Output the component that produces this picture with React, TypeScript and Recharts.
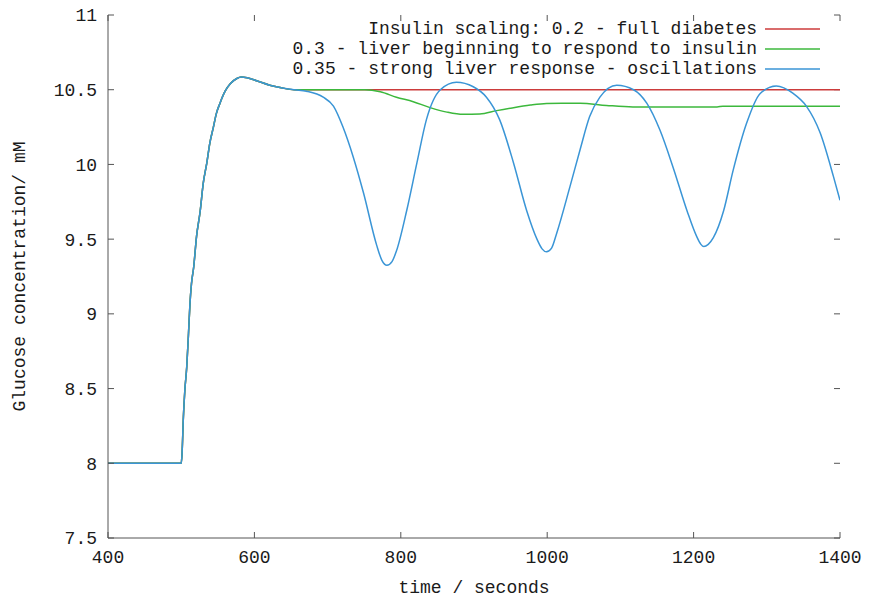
import { Legend, Line, LineChart, ReferenceLine, XAxis, YAxis } from 'recharts'

const xTicks = [400, 600, 800, 1000, 1200, 1400]
const yTicks = [7.5, 8, 8.5, 9, 9.5, 10, 10.5, 11]

const seriesNames = [
  'Insulin scaling: 0.2 - full diabetes',
  '0.3 - liver beginning to respond to insulin',
  '0.35 - strong liver response - oscillations',
]

// shared start: flat baseline, glucose step at 500 s, overshoot and settle
const riseTimes = [
  400, 500, 501, 503, 505, 507.5, 510, 512, 514, 517, 521, 526, 530, 535, 539, 544, 548, 553, 560,
  567, 576, 582, 590, 603, 621, 635, 655,
]
const riseGlucose = [
  8, 8, 8.05, 8.31, 8.49, 8.64, 8.87, 9.07, 9.2, 9.31, 9.52, 9.69, 9.87, 10.01, 10.14, 10.25, 10.34,
  10.41, 10.49, 10.54, 10.575, 10.585, 10.58, 10.56, 10.53, 10.515, 10.5,
]

// 0.2 - stays flat
const flatTimes = [700, 1000, 1400]
const flatGlucose = [10.5, 10.5, 10.5]

// 0.3 - small dip then settles
const dipTimes = [
  700, 751, 772, 794, 817, 840, 863, 885, 908, 931, 954, 977, 999, 1020, 1045, 1081, 1117, 1232,
  1240, 1400,
]
const dipGlucose = [
  10.5, 10.5, 10.486, 10.45, 10.42, 10.38, 10.35, 10.335, 10.337, 10.36, 10.38, 10.397, 10.408,
  10.41, 10.41, 10.395, 10.385, 10.385, 10.39, 10.39,
]

// 0.35 - sustained oscillation
const oscTimes = [
  671, 694, 708, 721, 735, 749, 767, 774, 781, 788, 794, 808, 822, 835, 854, 876, 899, 917, 935,
  954, 972, 986, 993, 999, 1006, 1013, 1031, 1045, 1058, 1072, 1095, 1118, 1136, 1154, 1172, 1191,
  1204, 1210, 1214, 1220, 1227, 1241, 1254, 1272, 1291, 1313, 1336, 1354, 1373, 1391, 1400,
]
const oscGlucose = [
  10.49, 10.45, 10.39, 10.25, 10.05, 9.81, 9.46, 9.36, 9.325, 9.35, 9.42, 9.69, 10.01, 10.3, 10.5,
  10.55, 10.52, 10.45, 10.3, 10.01, 9.69, 9.5, 9.435, 9.415, 9.44, 9.54, 9.85, 10.1, 10.32, 10.45,
  10.53, 10.5, 10.41, 10.23, 9.98, 9.69, 9.52, 9.465, 9.45, 9.465, 9.51, 9.69, 9.96, 10.27, 10.475,
  10.525, 10.475, 10.39, 10.21, 9.92, 9.76,
]

function toPoints(times: number[], values: number[]) {
  return times.map((time, i) => ({ time, glucose: values[i] }))
}

const fullDiabetes = toPoints([...riseTimes, ...flatTimes], [...riseGlucose, ...flatGlucose])
const liverBeginning = toPoints([...riseTimes, ...dipTimes], [...riseGlucose, ...dipGlucose])
const strongLiver = toPoints([...riseTimes, ...oscTimes], [...riseGlucose, ...oscGlucose])

const font = '"Liberation Mono", "DejaVu Sans Mono", monospace'
const textColor = '#1a1a1a'
const frame = '#555'
const tickStyle = { fill: textColor, fontSize: 18, fontFamily: font }

// mirrored tick length (6px) expressed in data units of the 732x523 plot box
const tickLenX = (6 * (1400 - 400)) / 732
const tickLenY = (6 * (11 - 7.5)) / 523

const NoLabel = () => <g />

function XLabel({ viewBox }: any) {
  return (
    <text
      x={viewBox.x + viewBox.width / 2}
      y={viewBox.y + 50}
      textAnchor="middle"
      dominantBaseline="central"
      style={tickStyle}
    >
      time / seconds
    </text>
  )
}

function YLabel({ viewBox }: any) {
  const x = viewBox.x + 20
  const y = viewBox.y + viewBox.height / 2
  return (
    <text
      x={x}
      y={y}
      transform={`rotate(-90, ${x}, ${y})`}
      textAnchor="middle"
      dominantBaseline="central"
      style={tickStyle}
    >
      Glucose concentration/ mM
    </text>
  )
}

function KeyBox({ payload }: any) {
  const items = (payload || [])
    .filter((entry: any) => seriesNames.includes(entry.value))
    .sort((a: any, b: any) => seriesNames.indexOf(a.value) - seriesNames.indexOf(b.value))
  return (
    <div style={{ fontFamily: font, fontSize: 18, color: textColor }}>
      {items.map((entry: any) => (
        <div
          key={entry.value}
          style={{ display: 'flex', justifyContent: 'flex-end', alignItems: 'center', height: 20 }}
        >
          <span style={{ whiteSpace: 'pre' }}>{entry.value}</span>
          <svg width={63} height={20} style={{ display: 'block' }}>
            <line x1={8} x2={63} y1={10} y2={10} stroke={entry.color} strokeWidth={1.5} />
          </svg>
        </div>
      ))}
    </div>
  )
}

export default function App() {
  return (
    <div style={{ position: 'absolute', left: 0, top: 0, background: '#fff' }}>
      <LineChart width={869} height={599} margin={{ top: 15, right: 29, bottom: 0, left: 0 }}>
        {/* negative tickSize turns the ticks inward, gnuplot style */}
        <XAxis
          dataKey="time"
          type="number"
          domain={[400, 1400]}
          ticks={xTicks}
          allowDataOverflow
          height={61}
          tickSize={-6}
          tickMargin={18}
          tickLine={{ stroke: frame }}
          axisLine={{ stroke: frame }}
          tick={tickStyle}
          label={(props: any) => <XLabel {...props} />}
        />
        <XAxis
          xAxisId="top"
          orientation="top"
          dataKey="time"
          type="number"
          domain={[400, 1400]}
          ticks={xTicks}
          allowDataOverflow
          height={0}
          tick={NoLabel}
          tickLine={false}
          axisLine={{ stroke: frame }}
        />
        <YAxis
          type="number"
          domain={[7.5, 11]}
          ticks={yTicks}
          allowDataOverflow
          width={108}
          tickSize={-6}
          tickMargin={17}
          tickLine={{ stroke: frame }}
          axisLine={{ stroke: frame }}
          tick={tickStyle}
          label={(props: any) => <YLabel {...props} />}
        />
        <YAxis
          yAxisId="right"
          orientation="right"
          type="number"
          domain={[7.5, 11]}
          ticks={yTicks}
          allowDataOverflow
          width={0}
          tick={NoLabel}
          tickLine={false}
          axisLine={{ stroke: frame }}
        />
        {xTicks.map((t) => (
          <ReferenceLine
            key={`tx${t}`}
            segment={[
              { x: t, y: 11 },
              { x: t, y: 11 - tickLenY },
            ]}
            stroke={frame}
          />
        ))}
        {yTicks.map((v) => (
          <ReferenceLine
            key={`ty${v}`}
            segment={[
              { x: 1400, y: v },
              { x: 1400 - tickLenX, y: v },
            ]}
            stroke={frame}
          />
        ))}
        <Legend
          layout="vertical"
          align="center"
          verticalAlign="middle"
          content={(props: any) => <KeyBox {...props} />}
          wrapperStyle={{ left: 220, top: 19, width: 600, height: 60 }}
        />
        <Line
          data={fullDiabetes}
          dataKey="glucose"
          name={seriesNames[0]}
          type="monotone"
          stroke="#cc3b3b"
          strokeWidth={1.5}
          dot={false}
          isAnimationActive={false}
        />
        <Line
          data={liverBeginning}
          dataKey="glucose"
          name={seriesNames[1]}
          type="monotone"
          stroke="#3cb83c"
          strokeWidth={1.5}
          dot={false}
          isAnimationActive={false}
        />
        <Line
          data={strongLiver}
          dataKey="glucose"
          name={seriesNames[2]}
          type="monotone"
          stroke="#3a95d6"
          strokeWidth={1.5}
          dot={false}
          isAnimationActive={false}
        />
      </LineChart>
    </div>
  )
}
